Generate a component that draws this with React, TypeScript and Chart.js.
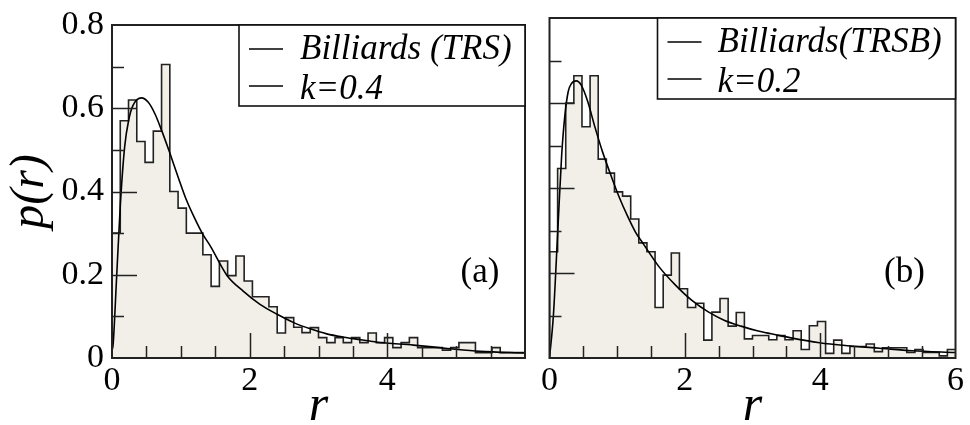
import React, { useEffect, useRef } from "react";
import { Chart, registerables } from "chart.js";

Chart.register(...registerables);

// ---------- data ----------
const binWidth = 0.12;

// Panel (a): Billiards (TRS) histogram, bin heights (bins of width 0.12 from r = 0 to 6)
const trsHist = [
  0.30, 0.57, 0.62, 0.52, 0.47, 0.545, 0.705, 0.40, 0.36, 0.30,
  0.30, 0.248, 0.172, 0.233, 0.198, 0.245, 0.185, 0.147, 0.147, 0.123,
  0.060, 0.097, 0.074, 0.061, 0.073, 0.049, 0.037, 0.049, 0.037, 0.049,
  0.037, 0.060, 0.037, 0.049, 0.025, 0.037, 0.049, 0.025, 0.025, 0.025,
  0.019, 0.025, 0.037, 0.037, 0.013, 0.013, 0.025, 0.013, 0.013, 0.013,
];

// Panel (b): Billiards (TRSB) histogram
const trsbHist = [
  0.25, 0.446, 0.60, 0.664, 0.544, 0.664, 0.468, 0.435, 0.391, 0.381,
  0.327, 0.271, 0.250, 0.119, 0.195, 0.247, 0.163, 0.119, 0.129, 0.042,
  0.108, 0.140, 0.075, 0.107, 0.045, 0.053, 0.053, 0.043, 0.053, 0.043,
  0.064, 0.020, 0.076, 0.086, 0.011, 0.042, 0.011, 0.027, 0.027, 0.033,
  0.015, 0.024, 0.024, 0.024, 0.013, 0.020, 0.013, 0.013, 0.005, 0.020,
];

// Fitted curve k = 0.4 (panel a)
const curveAR = [0, 0.015, 0.063, 0.121, 0.185, 0.243, 0.305, 0.427, 0.524, 0.62, 0.718, 0.839, 0.96, 1.08, 1.2, 1.32, 1.425, 1.668, 1.91, 2.15, 2.4, 2.64, 2.88, 3.12, 3.37, 3.61, 3.85, 4.38, 4.87, 5.35, 6.0];
const curveAP = [0.02, 0.03, 0.18, 0.368, 0.509, 0.572, 0.607, 0.625, 0.615, 0.588, 0.548, 0.493, 0.435, 0.38, 0.336, 0.297, 0.27, 0.199, 0.16, 0.129, 0.105, 0.085, 0.07, 0.058, 0.05, 0.044, 0.038, 0.031, 0.023, 0.016, 0.012];

// Fitted curve k = 0.2 (panel b)
const curveBR = [0, 0.058, 0.122, 0.18, 0.228, 0.277, 0.325, 0.397, 0.469, 0.566, 0.663, 0.784, 0.905, 1.026, 1.147, 1.268, 1.389, 1.617, 1.858, 2.1, 2.34, 2.58, 2.83, 3.07, 3.31, 3.55, 3.99, 4.4, 4.88, 5.36, 6.0];
const curveBP = [0.0, 0.101, 0.298, 0.478, 0.572, 0.627, 0.646, 0.652, 0.642, 0.603, 0.548, 0.485, 0.431, 0.38, 0.336, 0.297, 0.268, 0.215, 0.172, 0.136, 0.109, 0.089, 0.075, 0.064, 0.056, 0.048, 0.036, 0.029, 0.023, 0.017, 0.013];

const xTickLabels = [0, 2, 4, 6];
const yTickLabels = [0, 0.2, 0.4, 0.6, 0.8];
const xTickMarks = [0.5, 1, 1.5, 2, 2.5, 3, 3.5, 4, 4.5, 5, 5.5];
const xMajorMarks = [2, 4];
const yTickMarks = [0.1, 0.2, 0.3, 0.4, 0.5, 0.6, 0.7];
const yMajorMarks = [0.2, 0.4, 0.6];

const legendA = ["Billiards (TRS)", "k=0.4"];
const legendB = ["Billiards(TRSB)", "k=0.2"];
const tagA = "(a)";
const tagB = "(b)";
const xTitle = "r";
const yTitle = "p(r)";

// ---------- helpers ----------
const FONT = "'Liberation Serif', 'Times New Roman', serif";
const FILL = "#F2EFE8";

function histPoints(vals: number[]) {
  const pts: { x: number; y: number }[] = [{ x: 0, y: 0 }];
  vals.forEach((v, i) => pts.push({ x: +(i * binWidth).toFixed(3), y: v }));
  pts.push({ x: +(vals.length * binWidth).toFixed(3), y: vals[vals.length - 1] });
  return pts;
}

function curvePoints(rs: number[], ps: number[]) {
  return rs.map((r, i) => ({ x: r, y: ps[i] }));
}

const decoPlugin = {
  id: "panelDeco",
  afterDatasetsDraw(chart: any, _args: any, opts: any) {
    const { ctx, chartArea } = chart;
    const { left, right, top, bottom } = chartArea;
    const xs = chart.scales.x;
    const ys = chart.scales.y;
    ctx.save();
    ctx.strokeStyle = "#222";
    ctx.lineWidth = 1.5;
    ctx.beginPath();
    xTickMarks.forEach((v) => {
      const px = Math.round(xs.getPixelForValue(v)) + 0.5;
      const len = xMajorMarks.includes(v) ? 25 : 12;
      ctx.moveTo(px, bottom);
      ctx.lineTo(px, bottom - len);
    });
    yTickMarks.forEach((v) => {
      const py = Math.round(ys.getPixelForValue(v)) + 0.5;
      const len = yMajorMarks.includes(v) ? 25 : 12;
      ctx.moveTo(left, py);
      ctx.lineTo(left + len, py);
    });
    ctx.stroke();

    // frame
    ctx.lineWidth = 2;
    ctx.strokeRect(left, top, right - left, bottom - top);

    // legend box
    const bx = right - opts.legendWidth;
    const bh = 81;
    ctx.fillStyle = "#ffffff";
    ctx.fillRect(bx, top, right - bx, bh);
    ctx.lineWidth = 1.6;
    ctx.strokeStyle = "#111";
    ctx.strokeRect(bx, top, right - bx, bh);
    const lineYs = [top + 24, top + 61];
    const textYs = [top + 34, top + 74];
    ctx.strokeStyle = "#000";
    ctx.lineWidth = 1.5;
    ctx.fillStyle = "#000";
    ctx.font = `italic 35px ${FONT}`;
    ctx.textAlign = "left";
    ctx.textBaseline = "alphabetic";
    opts.legend.forEach((label: string, i: number) => {
      ctx.beginPath();
      ctx.moveTo(bx + 10, lineYs[i]);
      ctx.lineTo(bx + 44, lineYs[i]);
      ctx.stroke();
      ctx.fillText(label, bx + opts.textOffset, textYs[i]);
    });

    // panel tag
    ctx.font = `35px ${FONT}`;
    ctx.textAlign = "center";
    ctx.fillText(opts.tag, right - opts.tagOffset, 282);

    // axis titles
    ctx.font = `italic 50px ${FONT}`;
    ctx.fillText(xTitle, (left + right) / 2, 420);
    if (opts.yTitle) {
      ctx.save();
      ctx.translate(43, (top + bottom) / 2);
      ctx.rotate(-Math.PI / 2);
      ctx.font = `italic 48px ${FONT}`;
      ctx.textAlign = "center";
      ctx.fillText(yTitle, 0, 0);
      ctx.restore();
    }
    ctx.restore();
  },
};

function makeConfig(panel: "a" | "b"): any {
  const isA = panel === "a";
  const hist = isA ? trsHist : trsbHist;
  const curve = isA ? curvePoints(curveAR, curveAP) : curvePoints(curveBR, curveBP);
  return {
    type: "line",
    data: {
      datasets: [
        {
          label: isA ? legendA[1] : legendB[1],
          data: curve,
          borderColor: "#000",
          borderWidth: 1.6,
          pointRadius: 0,
          fill: false,
          cubicInterpolationMode: "monotone",
          order: 0,
        },
        {
          label: isA ? legendA[0] : legendB[0],
          data: histPoints(hist),
          borderColor: "#222",
          borderWidth: 1.6,
          backgroundColor: FILL,
          pointRadius: 0,
          stepped: true,
          fill: "origin",
          order: 1,
        },
      ],
    },
    options: {
      responsive: false,
      animation: false,
      devicePixelRatio: 1,
      layout: { padding: { top: 18, right: isA ? 10 : 12, left: 0, bottom: 0 } },
      plugins: {
        legend: { display: false },
        tooltip: { enabled: false },
        panelDeco: {
          legend: isA ? legendA : legendB,
          legendWidth: isA ? 286 : 298,
          textOffset: isA ? 61 : 60,
          tag: isA ? tagA : tagB,
          tagOffset: isA ? 45 : 51,
          yTitle: isA,
        },
      },
      scales: {
        x: {
          type: "linear",
          min: 0,
          max: 6,
          afterBuildTicks: (scale: any) => {
            scale.ticks = xTickLabels.map((v) => ({ value: v }));
          },
          afterFit: (scale: any) => {
            scale.height = 67;
          },
          grid: { display: false, drawTicks: false },
          border: { display: false },
          ticks: {
            padding: 6,
            color: "#000",
            maxRotation: 0,
            autoSkip: false,
            font: { family: FONT, size: 34, lineHeight: 1 },
            callback: (v: number) => (isA && v === 6 ? "" : String(v)),
          },
        },
        y: {
          type: "linear",
          min: 0,
          max: 0.8,
          afterBuildTicks: (scale: any) => {
            scale.ticks = yTickLabels.map((v) => ({ value: v }));
          },
          afterFit: (scale: any) => {
            scale.width = isA ? 112 : 10;
          },
          grid: { display: false, drawTicks: false },
          border: { display: false },
          ticks: {
            display: isA,
            padding: 8,
            color: "#000",
            autoSkip: false,
            font: { family: FONT, size: 34, lineHeight: 1 },
            callback: (v: number) => (v === 0 ? "0" : v.toFixed(1)),
          },
        },
      },
    },
    plugins: [decoPlugin],
  };
}

function Panel({ panel, left, width }: { panel: "a" | "b"; left: number; width: number }) {
  const ref = useRef<HTMLCanvasElement | null>(null);
  useEffect(() => {
    if (!ref.current) return;
    const chart = new Chart(ref.current, makeConfig(panel));
    return () => chart.destroy();
  }, [panel]);
  return (
    <canvas
      ref={ref}
      width={width}
      height={425}
      style={{ position: "absolute", left, top: 0, width, height: 425 }}
    />
  );
}

export default function App() {
  return (
    <div style={{ position: "absolute", left: 0, top: 0, width: 970, height: 425, background: "#fff" }}>
      <Panel panel="b" left={535} width={435} />
      <Panel panel="a" left={0} width={535} />
    </div>
  );
}
